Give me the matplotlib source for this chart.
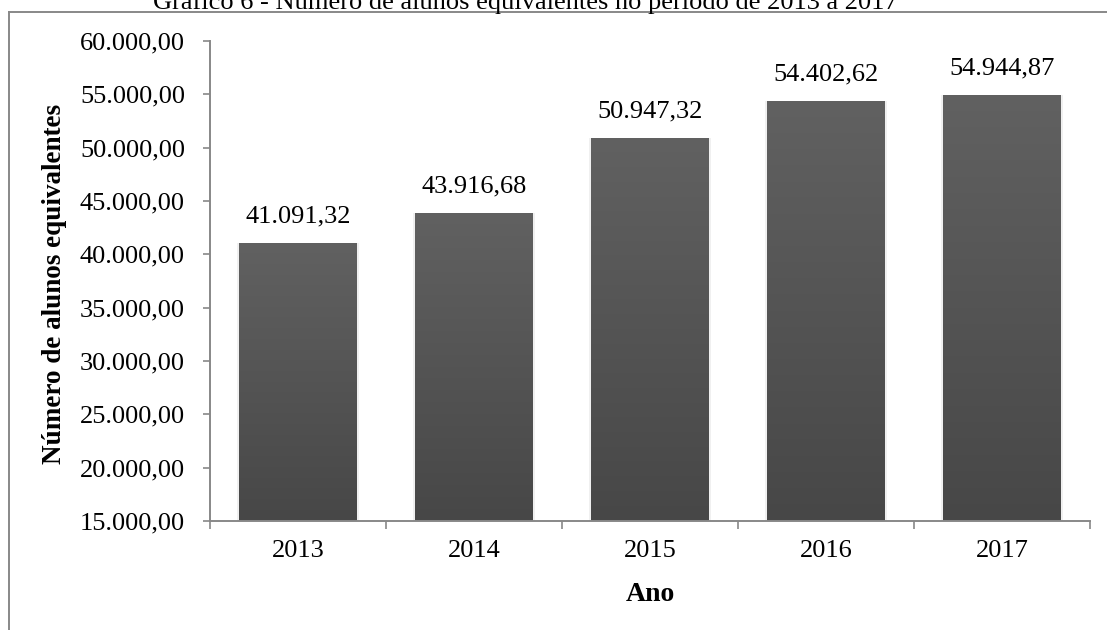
import numpy as np
import matplotlib.pyplot as plt
from matplotlib.lines import Line2D
from matplotlib.colors import LinearSegmentedColormap

anos = ['2013', '2014', '2015', '2016', '2017']
alunos = [41091.32, 43916.68, 50947.32, 54402.62, 54944.87]
yticks = [15000, 20000, 25000, 30000, 35000, 40000, 45000, 50000, 55000, 60000]

plt.rcParams['font.family'] = ['Liberation Serif', 'DejaVu Serif']


def br(v):
    # formato brasileiro: 41.091,32
    s = f'{v:,.2f}'
    return s.replace(',', 'X').replace('.', ',').replace('X', '.')


fig = plt.figure(figsize=(11.07, 6.3), dpi=100)
ax = fig.add_axes([210 / 1107, 1 - 521 / 630, 880 / 1107, 480 / 630])

x = np.arange(len(anos))
bars = ax.bar(x, alunos, width=0.67, color='none', zorder=2)

# gradiente vertical nas barras
grad = np.linspace(0, 1, 256).reshape(-1, 1)
cmap = LinearSegmentedColormap.from_list('g', ['#474747', '#616161'])
for b in bars:
    x0, y0 = b.get_x(), 15000
    x1, y1 = b.get_x() + b.get_width(), b.get_height()
    # sombra leve
    ax.bar(b.get_x() + b.get_width() / 2, y1 - y0, bottom=y0,
           width=b.get_width() + 0.025, color='#f0f0f0', zorder=1)
    im = ax.imshow(grad, extent=[x0, x1, y0, y1], origin='lower', cmap=cmap,
                   aspect='auto', zorder=2)
    im.set_clip_path(b)

for xi, v in zip(x, alunos):
    ax.annotate(br(v), (xi, v), xytext=(0, 26), textcoords='offset pixels',
                ha='center', va='center', fontsize=19)

ax.set_xlim(-0.5, len(anos) - 0.5)
ax.set_ylim(15000, 60000)
ax.set_yticks(yticks)
ax.set_yticklabels([br(t) for t in yticks], fontsize=19)
ax.set_xticks(x)
ax.set_xticklabels(anos, fontsize=19)
ax.set_xticks(np.arange(-0.5, len(anos)), minor=True)
ax.tick_params(axis='x', which='major', length=0, pad=14)
ax.tick_params(axis='x', which='minor', length=6, color='#888888', width=1.2)
ax.tick_params(axis='y', length=5, color='#888888', width=1.2, pad=13)

for s in ['top', 'right']:
    ax.spines[s].set_visible(False)
for s in ['left', 'bottom']:
    ax.spines[s].set_color('#888888')
    ax.spines[s].set_linewidth(1.4)

ax.set_ylabel('Número de alunos equivalentes', fontsize=19.5, fontweight='bold')
ax.set_xlabel('Ano', fontsize=20, fontweight='bold')
ax.yaxis.label.set_verticalalignment('center')
ax.xaxis.label.set_verticalalignment('center')
ax.yaxis.set_label_coords(-0.177, 0.494)
ax.xaxis.set_label_coords(0.5, -0.154)

# moldura
fig.add_artist(Line2D([9 / 1107, 9 / 1107], [0, 1 - 12 / 630], transform=fig.transFigure,
                      color='#888888', lw=1.4))
fig.add_artist(Line2D([9 / 1107, 1], [1 - 12 / 630, 1 - 12 / 630], transform=fig.transFigure,
                      color='#888888', lw=1.4))

fig.text(525 / 1107, 1 - 9.5 / 630, 'Gráfico 6 - Número de alunos equivalentes no período de 2013 a 2017',
         ha='center', va='baseline', fontsize=19)

fig.savefig('out.png', dpi=100)
